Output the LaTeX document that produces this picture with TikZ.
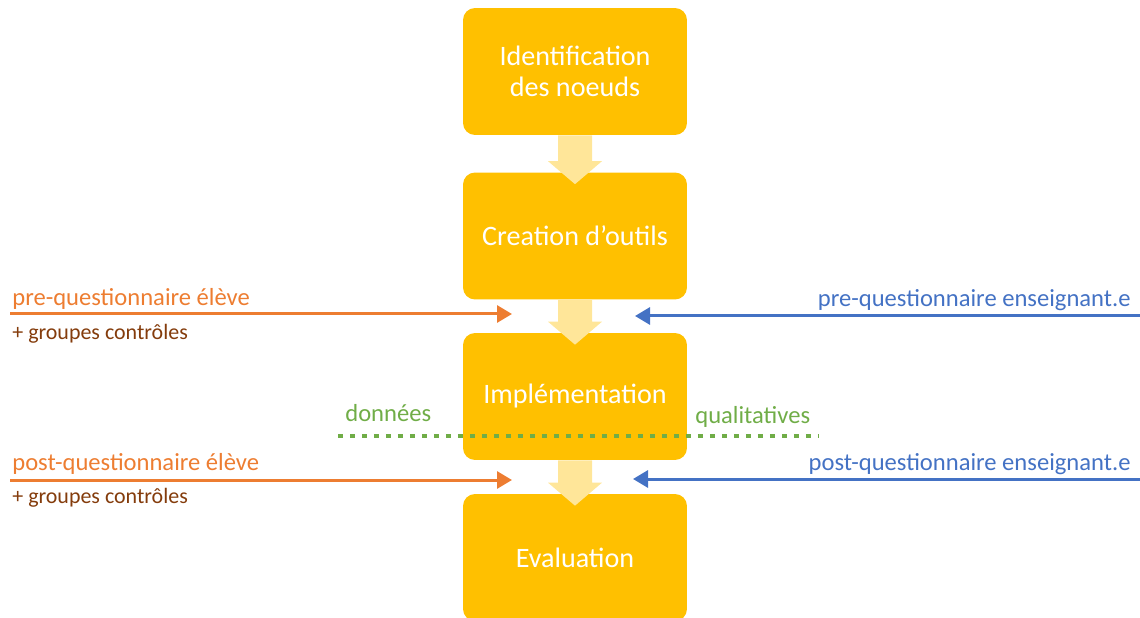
\documentclass[tikz,border=0pt]{standalone}
\usepackage{fontspec}
\setmainfont{Carlito}
\usetikzlibrary{calc,arrows.meta}
\definecolor{or}{HTML}{FFC000}
\definecolor{jaunepale}{HTML}{FFE699}
\definecolor{orange}{HTML}{ED7D31}
\definecolor{bleu}{HTML}{4472C4}
\definecolor{vert}{HTML}{70AD47}
\definecolor{brun}{HTML}{843C0C}

\begin{document}
\begin{tikzpicture}[x=0.02cm,y=-0.02cm,>={Triangle[length=0.3cm,width=0.34cm]},
	etape/.style={fill=or,rounded corners=0.24cm,minimum width=4.48cm,minimum height=2.54cm,
		text=white,align=center,font=\fontsize{16}{17.6}\selectfont},
	fleche/.style={fill=jaunepale},
	lab/.style={inner sep=0pt,font=\fontsize{14}{17}\selectfont},
	petit/.style={inner sep=0pt,text=brun,font=\fontsize{12.5}{15}\selectfont}]
		\useasboundingbox (0,0) rectangle (1140,618);
		\clip (0,0) rectangle (1140,618);
		% Etapes
		\node[etape] (ident) at (575,71.5) {Identification\\des noeuds};
		\node[etape] (creat) at (575,236) {Creation d’outils};
		\node[etape] (impl) at (575,396.5) {Implémentation};
		\node[etape] (eval) at (575,557.5) {Evaluation};
		% Fleches
		\foreach \a/\b in {ident/creat,creat/impl,impl/eval}
			\fill[fleche] ($(\a.south)+(-17,0)$) -- ($(\b.north)+(-17,-11)$) -- ($(\b.north)+(-27,-11)$)
				-- ($(\b.north)+(0,12)$) -- ($(\b.north)+(27,-11)$) -- ($(\b.north)+(17,-11)$)
				-- ($(\a.south)+(17,0)$) -- cycle;
		
		% Questionnaires
		\coordinate (preG) at (10,314);
		\coordinate (preGf) at (512,314);
		\coordinate (preD) at (1140,316);
		\coordinate (preDf) at (635,316);
		\coordinate (postG) at (10,480);
		\coordinate (postGf) at (512,480);
		\coordinate (postD) at (1140,479);
		\coordinate (postDf) at (633,479);
		\draw[->,orange,line width=0.06cm] (preG) -- (preGf);
		\draw[->,bleu,line width=0.06cm] (preD) -- (preDf);
		\draw[->,orange,line width=0.06cm] (postG) -- (postGf);
		\draw[->,bleu,line width=0.06cm] (postD) -- (postDf);
		\node[lab,text=orange,anchor=west] (preEl) at (12,299) {pre-questionnaire élève};
		\node[petit,anchor=west] (preCtrl) at (12,334) {+ groupes contrôles};
		\node[lab,text=bleu,anchor=east] (preEns) at (1131,300) {pre-questionnaire enseignant.e};
		\node[lab,text=orange,anchor=west] (postEl) at (12,464) {post-questionnaire élève};
		\node[petit,anchor=west] (postCtrl) at (12,498) {+ groupes contrôles};
		\node[lab,text=bleu,anchor=east] (postEns) at (1131,464) {post-questionnaire enseignant.e};
		
		% Donnees
		\coordinate (donG) at (338,436);
		\coordinate (donD) at (818,436);
		\draw[vert,line width=0.085cm,dash pattern=on 0.1cm off 0.14cm] (donG) -- (donD);
		\node[lab,text=vert,anchor=west] (donnees) at (345,413) {données};
		\node[lab,text=vert,anchor=west] (qualit) at (695,417) {qualitatives};
	\end{tikzpicture}
\end{document}
